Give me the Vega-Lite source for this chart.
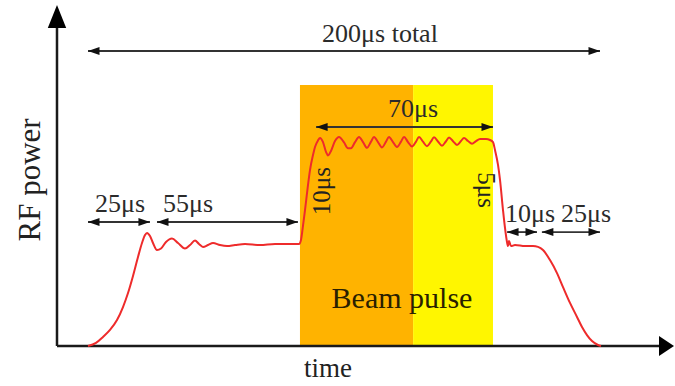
{
  "$schema": "https://vega.github.io/schema/vega-lite/v6.json",
  "width": 675,
  "height": 386,
  "padding": 0,
  "autosize": {"type": "none"},
  "config": {"view": {"stroke": null}, "text": {"font": "Liberation Serif", "color": "#222"}},
  "datasets": {
    "bands": [
      {"start": 82.8, "end": 127.0, "top": 126.7, "phase": "early"},
      {"start": 127.0, "end": 158.2, "top": 126.7, "phase": "late"}
    ],
    "curve": [
      {"t": 0, "p": 0}, {"t": 3.13, "p": 1.5}, {"t": 5.86, "p": 4.4}, {"t": 8.59, "p": 7.8},
      {"t": 11.33, "p": 12.6}, {"t": 13.67, "p": 18.9}, {"t": 15.63, "p": 25.7}, {"t": 17.58, "p": 34.0},
      {"t": 19.53, "p": 43.2}, {"t": 21.09, "p": 50.0}, {"t": 22.27, "p": 53.9}, {"t": 23.05, "p": 54.9},
      {"t": 24.22, "p": 53.4}, {"t": 25.39, "p": 50.0}, {"t": 26.95, "p": 46.6}, {"t": 28.52, "p": 47.3},
      {"t": 30.47, "p": 50.5}, {"t": 32.81, "p": 52.2}, {"t": 35.16, "p": 50.0}, {"t": 37.89, "p": 47.3},
      {"t": 39.84, "p": 49.0}, {"t": 41.8, "p": 51.2}, {"t": 43.36, "p": 49.5}, {"t": 44.92, "p": 48.1},
      {"t": 46.88, "p": 49.0}, {"t": 48.83, "p": 50.0}, {"t": 51.56, "p": 49.0}, {"t": 54.3, "p": 48.5},
      {"t": 57.42, "p": 49.0}, {"t": 61.33, "p": 49.5}, {"t": 67.19, "p": 49.0}, {"t": 73.05, "p": 49.5},
      {"t": 78.91, "p": 49.5}, {"t": 82.42, "p": 49.5}, {"t": 83.2, "p": 51.5}, {"t": 83.98, "p": 58.3},
      {"t": 84.77, "p": 66.0}, {"t": 85.94, "p": 78.2}, {"t": 86.72, "p": 85.4}, {"t": 87.89, "p": 92.7},
      {"t": 88.67, "p": 96.6}, {"t": 89.84, "p": 99.8}, {"t": 90.63, "p": 101.0}, {"t": 91.8, "p": 99.0},
      {"t": 92.97, "p": 94.2}, {"t": 93.75, "p": 92.5}, {"t": 94.92, "p": 94.7}, {"t": 96.48, "p": 99.5},
      {"t": 98.05, "p": 101.5}, {"t": 100.0, "p": 98.8}, {"t": 101.56, "p": 96.0}, {"t": 102.73, "p": 96.0},
      {"t": 104.3, "p": 99.0}, {"t": 105.86, "p": 101.5}, {"t": 107.42, "p": 99.0}, {"t": 108.98, "p": 96.2},
      {"t": 110.55, "p": 99.2}, {"t": 111.72, "p": 101.5}, {"t": 113.28, "p": 99.0}, {"t": 114.84, "p": 96.4},
      {"t": 116.41, "p": 99.2}, {"t": 117.58, "p": 101.5}, {"t": 119.14, "p": 99.0}, {"t": 120.7, "p": 96.6},
      {"t": 122.27, "p": 99.2}, {"t": 123.44, "p": 101.5}, {"t": 125.0, "p": 99.0}, {"t": 126.56, "p": 96.8},
      {"t": 128.13, "p": 99.2}, {"t": 129.3, "p": 101.5}, {"t": 130.86, "p": 99.2}, {"t": 132.42, "p": 97.0},
      {"t": 133.98, "p": 99.3}, {"t": 135.16, "p": 101.3}, {"t": 136.72, "p": 99.3}, {"t": 138.28, "p": 97.2},
      {"t": 139.84, "p": 99.4}, {"t": 141.02, "p": 101.2}, {"t": 142.58, "p": 99.4}, {"t": 144.14, "p": 97.6},
      {"t": 145.7, "p": 99.5}, {"t": 146.88, "p": 101.0}, {"t": 148.44, "p": 99.5}, {"t": 150.0, "p": 98.2},
      {"t": 151.56, "p": 99.5}, {"t": 153.13, "p": 100.5}, {"t": 155.47, "p": 100.5}, {"t": 157.03, "p": 100.0},
      {"t": 158.2, "p": 99.0}, {"t": 158.98, "p": 95.1}, {"t": 160.16, "p": 87.9}, {"t": 160.94, "p": 80.6},
      {"t": 162.11, "p": 66.0}, {"t": 162.89, "p": 57.3}, {"t": 163.67, "p": 50.5}, {"t": 164.06, "p": 48.5},
      {"t": 164.45, "p": 51.0}, {"t": 165.23, "p": 48.5}, {"t": 166.8, "p": 49.0}, {"t": 170.7, "p": 48.5},
      {"t": 173.83, "p": 48.5}, {"t": 175.78, "p": 48.1}, {"t": 177.73, "p": 46.6}, {"t": 180.47, "p": 41.7},
      {"t": 183.2, "p": 35.4}, {"t": 185.55, "p": 28.6}, {"t": 188.28, "p": 20.9}, {"t": 191.02, "p": 14.1},
      {"t": 192.97, "p": 9.2}, {"t": 194.92, "p": 5.3}, {"t": 196.88, "p": 2.4}, {"t": 199.22, "p": 0.5},
      {"t": 200.39, "p": 0}
    ],
    "spans": [
      {"from": 0, "to": 200, "level": 143.2},
      {"from": 0, "to": 24.2, "level": 60.2},
      {"from": 26.95, "to": 82.0, "level": 60.2},
      {"from": 89.1, "to": 158.2, "level": 106.3},
      {"from": 163.7, "to": 175.4, "level": 55.3},
      {"from": 177.3, "to": 200, "level": 55.3}
    ],
    "labels": [
      {"t": 114.06, "p": 147.6, "text": "200μs total"},
      {"t": 126.95, "p": 111.2, "text": "70μs"},
      {"t": 12.5, "p": 65.0, "text": "25μs"},
      {"t": 39.06, "p": 65.0, "text": "55μs"},
      {"t": 172.66, "p": 60.2, "text": "10μs"},
      {"t": 194.53, "p": 60.2, "text": "25μs"}
    ],
    "axesLines": [
      {"x1": -12.11, "x2": -12.11, "y1": 0, "y2": 160},
      {"x1": -12.11, "x2": 224, "y1": 0, "y2": 0}
    ]
  },
  "layer": [
    {
      "data": {"name": "bands"},
      "mark": {"type": "rect"},
      "encoding": {
        "x": {"field": "start", "type": "quantitative", "scale": {"domain": [-34.375, 229.297], "nice": false, "zero": false}, "axis": null},
        "x2": {"field": "end"},
        "y": {"field": "top", "type": "quantitative", "scale": {"domain": [-19.42, 167.96], "nice": false, "zero": false}, "axis": null},
        "y2": {"datum": 0},
        "color": {"field": "phase", "type": "nominal", "scale": {"domain": ["early", "late"], "range": ["#FFB300", "#FFF600"]}, "legend": null}
      }
    },
    {
      "data": {"name": "axesLines"},
      "mark": {"type": "rule", "color": "#1a1a1a", "strokeWidth": 2.5},
      "encoding": {
        "x": {"field": "x1", "type": "quantitative", "scale": {"domain": [-34.375, 229.297], "nice": false, "zero": false}, "axis": null},
        "x2": {"field": "x2"},
        "y": {"field": "y1", "type": "quantitative", "scale": {"domain": [-19.42, 167.96], "nice": false, "zero": false}, "axis": null},
        "y2": {"field": "y2"}
      }
    },
    {
      "data": {"values": [{"t": -12.11, "p": 165.5}]},
      "mark": {"type": "point", "shape": "M0,0L-0.8,2L0.8,2Z", "filled": true, "color": "#000", "opacity": 1, "size": 529, "strokeWidth": 0},
      "encoding": {
        "x": {"field": "t", "type": "quantitative", "scale": {"domain": [-34.375, 229.297], "nice": false, "zero": false}, "axis": null},
        "y": {"field": "p", "type": "quantitative", "scale": {"domain": [-19.42, 167.96], "nice": false, "zero": false}, "axis": null}
      }
    },
    {
      "data": {"values": [{"t": 228.9, "p": 0}]},
      "mark": {"type": "point", "shape": "M0,0L-1.5,-1L-1.5,1Z", "filled": true, "color": "#000", "opacity": 1, "size": 400, "strokeWidth": 0},
      "encoding": {
        "x": {"field": "t", "type": "quantitative", "scale": {"domain": [-34.375, 229.297], "nice": false, "zero": false}, "axis": null},
        "y": {"field": "p", "type": "quantitative", "scale": {"domain": [-19.42, 167.96], "nice": false, "zero": false}, "axis": null}
      }
    },
    {
      "data": {"name": "curve"},
      "mark": {"type": "line", "color": "#EE2B2B", "strokeWidth": 2, "interpolate": "monotone"},
      "encoding": {
        "x": {"field": "t", "type": "quantitative", "scale": {"domain": [-34.375, 229.297], "nice": false, "zero": false}, "axis": null},
        "y": {"field": "p", "type": "quantitative", "scale": {"domain": [-19.42, 167.96], "nice": false, "zero": false}, "axis": null}
      }
    },
    {
      "data": {"name": "spans"},
      "mark": {"type": "rule", "color": "#333", "strokeWidth": 1.8},
      "encoding": {
        "x": {"field": "from", "type": "quantitative", "scale": {"domain": [-34.375, 229.297], "nice": false, "zero": false}, "axis": null},
        "x2": {"field": "to"},
        "y": {"field": "level", "type": "quantitative", "scale": {"domain": [-19.42, 167.96], "nice": false, "zero": false}, "axis": null}
      }
    },
    {
      "data": {"name": "spans"},
      "mark": {"type": "point", "shape": "M0,0L2.3,-0.8L2.3,0.8Z", "filled": true, "color": "#111", "opacity": 1, "size": 100, "strokeWidth": 0},
      "encoding": {
        "x": {"field": "from", "type": "quantitative", "scale": {"domain": [-34.375, 229.297], "nice": false, "zero": false}, "axis": null},
        "y": {"field": "level", "type": "quantitative", "scale": {"domain": [-19.42, 167.96], "nice": false, "zero": false}, "axis": null}
      }
    },
    {
      "data": {"name": "spans"},
      "mark": {"type": "point", "shape": "M0,0L-2.3,-0.8L-2.3,0.8Z", "filled": true, "color": "#111", "opacity": 1, "size": 100, "strokeWidth": 0},
      "encoding": {
        "x": {"field": "to", "type": "quantitative", "scale": {"domain": [-34.375, 229.297], "nice": false, "zero": false}, "axis": null},
        "y": {"field": "level", "type": "quantitative", "scale": {"domain": [-19.42, 167.96], "nice": false, "zero": false}, "axis": null}
      }
    },
    {
      "data": {"name": "labels"},
      "mark": {"type": "text", "fontSize": 26, "align": "center", "baseline": "alphabetic", "color": "#2b2b2b"},
      "encoding": {
        "x": {"field": "t", "type": "quantitative", "scale": {"domain": [-34.375, 229.297], "nice": false, "zero": false}, "axis": null},
        "y": {"field": "p", "type": "quantitative", "scale": {"domain": [-19.42, 167.96], "nice": false, "zero": false}, "axis": null},
        "text": {"field": "text"}
      }
    },
    {
      "data": {"values": [{"t": 94.53, "p": 75.2, "text": "10μs"}]},
      "mark": {"type": "text", "fontSize": 25, "align": "center", "baseline": "alphabetic", "angle": 270, "color": "#222"},
      "encoding": {
        "x": {"field": "t", "type": "quantitative", "scale": {"domain": [-34.375, 229.297], "nice": false, "zero": false}, "axis": null},
        "y": {"field": "p", "type": "quantitative", "scale": {"domain": [-19.42, 167.96], "nice": false, "zero": false}, "axis": null},
        "text": {"field": "text"}
      }
    },
    {
      "data": {"values": [{"t": 152.34, "p": 75.7, "text": "5μs"}]},
      "mark": {"type": "text", "fontSize": 25, "align": "center", "baseline": "alphabetic", "angle": 90, "color": "#222"},
      "encoding": {
        "x": {"field": "t", "type": "quantitative", "scale": {"domain": [-34.375, 229.297], "nice": false, "zero": false}, "axis": null},
        "y": {"field": "p", "type": "quantitative", "scale": {"domain": [-19.42, 167.96], "nice": false, "zero": false}, "axis": null},
        "text": {"field": "text"}
      }
    },
    {
      "data": {"values": [{"t": 122.66, "p": 18.4, "text": "Beam pulse"}]},
      "mark": {"type": "text", "fontSize": 30, "align": "center", "baseline": "alphabetic", "color": "#2a1f00"},
      "encoding": {
        "x": {"field": "t", "type": "quantitative", "scale": {"domain": [-34.375, 229.297], "nice": false, "zero": false}, "axis": null},
        "y": {"field": "p", "type": "quantitative", "scale": {"domain": [-19.42, 167.96], "nice": false, "zero": false}, "axis": null},
        "text": {"field": "text"}
      }
    },
    {
      "data": {"values": [{"t": -18.75, "p": 80.6, "text": "RF power"}]},
      "mark": {"type": "text", "fontSize": 31, "align": "center", "baseline": "alphabetic", "angle": 270, "color": "#222"},
      "encoding": {
        "x": {"field": "t", "type": "quantitative", "scale": {"domain": [-34.375, 229.297], "nice": false, "zero": false}, "axis": null},
        "y": {"field": "p", "type": "quantitative", "scale": {"domain": [-19.42, 167.96], "nice": false, "zero": false}, "axis": null},
        "text": {"field": "text"}
      }
    },
    {
      "data": {"values": [{"t": 93.75, "p": -15.0, "text": "time"}]},
      "mark": {"type": "text", "fontSize": 27, "align": "center", "baseline": "alphabetic", "color": "#222"},
      "encoding": {
        "x": {"field": "t", "type": "quantitative", "scale": {"domain": [-34.375, 229.297], "nice": false, "zero": false}, "axis": null},
        "y": {"field": "p", "type": "quantitative", "scale": {"domain": [-19.42, 167.96], "nice": false, "zero": false}, "axis": null},
        "text": {"field": "text"}
      }
    }
  ]
}
